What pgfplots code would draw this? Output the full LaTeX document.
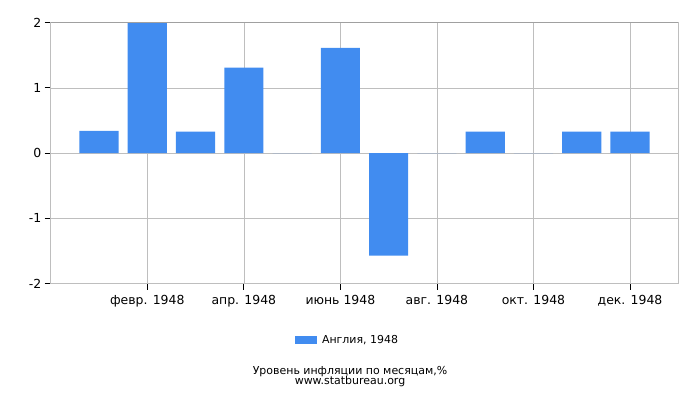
\documentclass[border=0pt]{standalone}
\usepackage{pgfplots}
\pgfplotsset{compat=1.18}
\usepackage{fontspec}
\setmainfont{DejaVu Sans}
\definecolor{barblue}{RGB}{65,140,240}
\definecolor{gridgray}{RGB}{190,190,190}
\definecolor{framegray}{RGB}{160,160,160}
\begin{document}
\begin{tikzpicture}
\path[use as bounding box] (0,0) rectangle (700bp,400bp);
\begin{axis}[
  at={(50.7bp,116.3bp)}, anchor=south west,
  scale only axis, width=627.6bp, height=261.2bp,
  xmin=0, xmax=13, ymin=-2, ymax=2,
  ybar, bar width=0.81,
  xtick={2,4,6,8,10,12},
  xticklabels={февр. 1948, апр. 1948, июнь 1948, авг. 1948, окт. 1948, дек. 1948},
  ytick={-2,-1,0,1,2},
  grid=major, grid style={gridgray, line width=0.6pt},
  axis line style={gridgray, line width=0.6pt},
  tick style={black, line width=0.7pt}, major tick length=6bp,
  tick align=outside, tick pos=left,
  /pgf/number format/assume math mode=true,
  ticklabel style={font=\fontsize{12.5}{14}\selectfont, text=black},
  xticklabel style={yshift=-2bp},
  legend style={at={(0.473,-0.2155)}, anchor=center, draw=none,
    font=\fontsize{11}{13}\selectfont, inner sep=0pt},
  legend image code/.code={\fill[barblue] (0bp,-4bp) rectangle (22bp,4bp); \path (25bp,0bp);},
]
\addplot[fill=barblue, draw=none] coordinates {
  (1,0.34) (2,2.0) (3,0.33) (4,1.31) (5,0) (6,1.61)
  (7,-1.57) (8,0) (9,0.33) (10,0) (11,0.33) (12,0.33)
};
\addlegendentry{Англия, 1948}
\draw[framegray, line width=0.6pt] (rel axis cs:0,1) -- (rel axis cs:1,1);
\end{axis}
\node[font=\fontsize{11}{12}\selectfont] at (350bp,400bp-371.5bp) {Уровень инфляции по месяцам,\%};
\node[font=\fontsize{11}{12}\selectfont] at (350bp,400bp-381.5bp) {www.statbureau.org};
\end{tikzpicture}
\end{document}
